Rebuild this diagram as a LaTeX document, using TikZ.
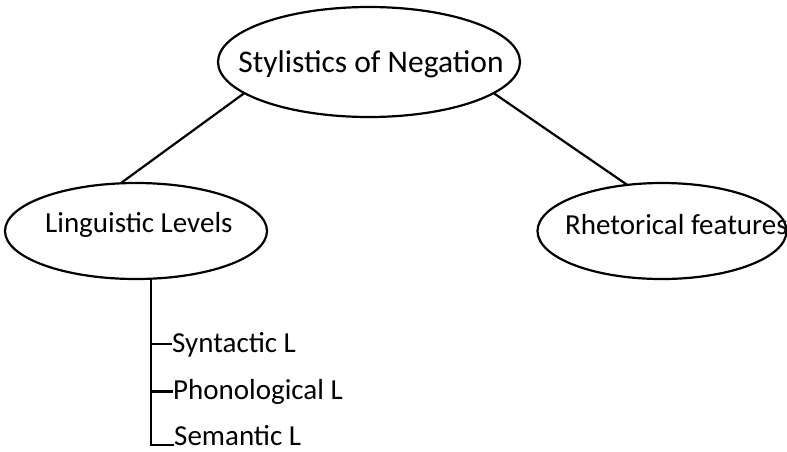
\documentclass[tikz,border=0pt]{standalone}
\usepackage{fontspec}
\setmainfont{Carlito}
\usetikzlibrary{shapes.geometric,calc}

\begin{document}
\begin{tikzpicture}[x=1pt,y=-1pt,
    oval/.style={draw,ellipse,line width=2.2pt,inner sep=0pt,outer sep=0pt},
    lbl/.style={inner sep=0pt,anchor=base west,font=\fontsize{29}{34}\selectfont},
    link/.style={line width=2.2pt}]
  \useasboundingbox (0,0) rectangle (787,451);
  % ovals
  \node[oval,minimum width=302pt,minimum height=110pt] (root) at (369,62) {};
  \node[oval,minimum width=262pt,minimum height=96pt] (ling) at (136,231) {};
  \node[oval,minimum width=249pt,minimum height=96pt] (rhet) at (662,231) {};
  % texts
  \node[lbl,anchor=base,font=\fontsize{31.5}{36}\selectfont] (roottxt) at (371,72) {Stylistics of Negation};
  \node[lbl] (lingtxt) at (45,232) {Linguistic Levels};
  \node[lbl] (rhettxt) at (565,234) {Rhetorical features};
  \node[lbl] (syn) at (172,352) {Syntactic L};
  \node[lbl] (pho) at (173,399) {Phonological L};
  \node[lbl] (sem) at (174,445) {Semantic L};
  % branches
  \draw[link] (root.194.7) -- (ling.108);
  \draw[link] (root.346.7) -- (rhet.127);
  % levels
  \coordinate (trunk) at ($(ling.south)+(15,0)$);
  \draw[link] (trunk) |- (sem.base west);
  \draw[link] (trunk |- syn.west) -- (syn.west);
  \draw[link] (trunk |- pho.west) -- (pho.west);
\end{tikzpicture}
\end{document}
